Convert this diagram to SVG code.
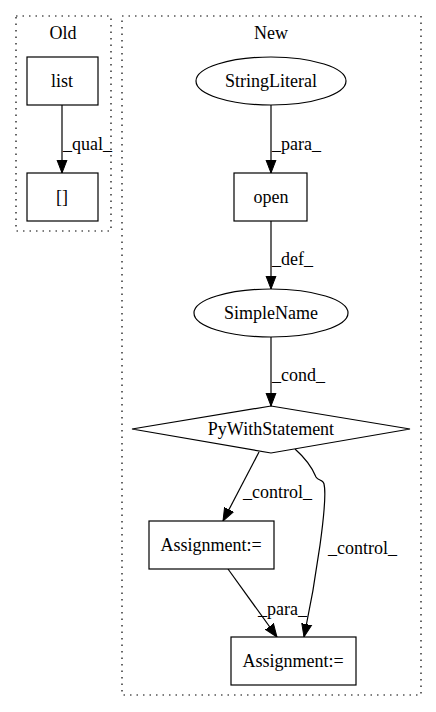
<svg xmlns="http://www.w3.org/2000/svg" width="436" height="712" viewBox="0 0 436 712">
<style>
text{font-family:"Liberation Serif","Times New Roman",serif;font-size:18px;fill:#000}
.c{text-anchor:middle}
.n{fill:#fff;stroke:#000;stroke-width:1.2}
.cl{fill:none;stroke:#000;stroke-width:1.2;stroke-dasharray:1.5,5}
.e{fill:none;stroke:#000;stroke-width:1.2}
</style>
<defs>
<marker id="ah" markerWidth="14" markerHeight="12" viewBox="0 0 14 12" refX="13" refY="6" orient="auto" markerUnits="userSpaceOnUse">
<path d="M0,1 L13,6 L0,11 Z" fill="#000" stroke="#000"/>
</marker>
</defs>
<rect width="436" height="712" fill="#fff"/>
<g id="cluster_old">
<rect class="cl" x="16" y="16" width="95" height="215"/>
<text class="c" x="63" y="39">Old</text>
</g>
<g id="cluster_new">
<rect class="cl" x="122" y="16" width="299" height="679"/>
<text class="c" x="271" y="39">New</text>
</g>
<g id="connectors">
<path class="e" d="M62,105 L62,173" marker-end="url(#ah)"/>
<text x="63" y="150">_qual_</text>
<path class="e" d="M271,105 L271,173" marker-end="url(#ah)"/>
<text x="272" y="150">_para_</text>
<path class="e" d="M271,221 L271,289" marker-end="url(#ah)"/>
<text x="272" y="265">_def_</text>
<path class="e" d="M271,337 L271,406" marker-end="url(#ah)"/>
<text x="272" y="381">_cond_</text>
<path class="e" d="M259,452 L223,521" marker-end="url(#ah)"/>
<text x="243" y="498">_control_</text>
<path class="e" d="M295,449 C304,457 312,467 316,477 C318,481 323,479 324,484 C328,500 316,580 304,637" marker-end="url(#ah)"/>
<text x="328" y="554">_control_</text>
<path class="e" d="M228,569 L277,637" marker-end="url(#ah)"/>
<text x="258" y="615">_para_</text>
</g>
<g id="node_list">
<rect class="n" x="27" y="57" width="71" height="48"/>
<text class="c" x="62" y="87">list</text>
</g>
<g id="node_index">
<rect class="n" x="27" y="173" width="71" height="48"/>
<text class="c" x="62" y="203">[]</text>
</g>
<g id="node_stringliteral">
<ellipse class="n" cx="271" cy="81" rx="75" ry="24"/>
<text class="c" x="271" y="87">StringLiteral</text>
</g>
<g id="node_open">
<rect class="n" x="234" y="173" width="73" height="48"/>
<text class="c" x="271" y="203">open</text>
</g>
<g id="node_simplename">
<ellipse class="n" cx="271" cy="313" rx="77" ry="24"/>
<text class="c" x="271" y="319">SimpleName</text>
</g>
<g id="node_pywith">
<polygon class="n" points="271,406 410,429 271,453 132,429"/>
<text class="c" x="271" y="435">PyWithStatement</text>
</g>
<g id="node_assign1">
<rect class="n" x="149" y="521" width="125" height="48"/>
<text class="c" x="211" y="551">Assignment:=</text>
</g>
<g id="node_assign2">
<rect class="n" x="231" y="637" width="125" height="48"/>
<text class="c" x="293" y="667">Assignment:=</text>
</g>
</svg>
